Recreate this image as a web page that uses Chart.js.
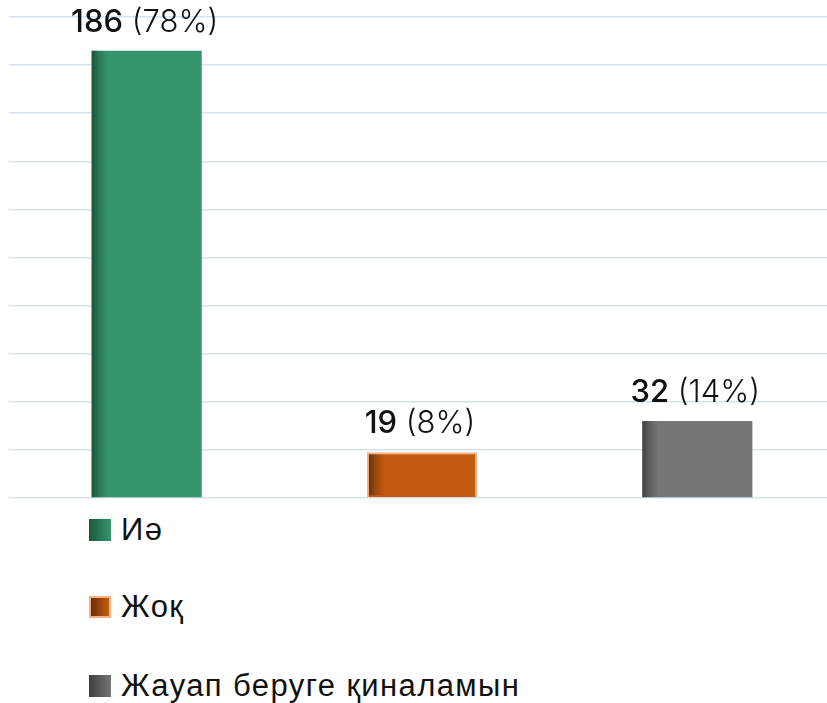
<!DOCTYPE html>
<html>
<head>
<meta charset="utf-8">
<script src="https://cdn.jsdelivr.net/npm/chart.js@4/dist/chart.umd.min.js"></script>
<style>
  body { margin: 0; background: #fff; overflow: hidden; width: 827px; height: 703px; }
  #wrap { position: absolute; left: 0; top: 0; width: 836px; height: 500px; }
  #legend { position: absolute; left: 89px; top: 0; }
  .item { position: absolute; left: 0; display: flex; align-items: center; white-space: nowrap;
          font-family: "Liberation Sans", Arial, sans-serif; font-size: 31px; letter-spacing: 1.4px;
          color: #111; height: 40px; }
  .box { width: 22px; height: 22px; box-sizing: border-box; margin-right: 10px; }
</style>
</head>
<body>
<div id="wrap"><canvas id="chart"></canvas></div>
<div id="legend"></div>
<script>
// data
const categories = ['Иә', 'Жоқ', 'Жауап беруге қиналамын'];
const counts = [186, 19, 32];
const percents = ['78%', '8%', '14%'];
const yTicks = [0, 200, 20];

// colours
const fills = ['#35956a', '#c55a11', '#767676'];
const edges = ['#1d5a3d', '#6b2e06', '#3e3e3e'];
const borders = ['#35956a', '#f4b183', '#767676'];
const legendY = [530, 607, 686];
const boldFont = '500 31px Inter, "Noto Sans", sans-serif';
const thinFont = '300 31px Inter, "Noto Sans", sans-serif';

// {{{ edge shading + value labels
const barDecor =
{
  id: 'barDecor',
  afterDatasetsDraw(chart)
  {
    let ctx = chart.ctx;
    let meta = chart.getDatasetMeta(0);
    meta.data.forEach((bar, i) =>
    {
      let left = bar.x - bar.width / 2;
      let top = bar.y;
      let h = bar.base - bar.y;
      let inset = (i == 1) ? 2 : 0;
      let g = ctx.createLinearGradient(left + inset, 0, left + inset + 16, 0);
      g.addColorStop(0, 'rgba(0,0,0,0.45)');
      g.addColorStop(0.45, 'rgba(0,0,0,0.2)');
      g.addColorStop(1, 'rgba(0,0,0,0)');
      ctx.save();
      ctx.fillStyle = g;
      ctx.fillRect(left + inset, top + inset, 16, h - inset * 2);
      ctx.restore();

      // label: heavier count, light percent
      let a = String(counts[i]);
      let b = ' (' + percents[i] + ')';
      ctx.save();
      ctx.textBaseline = 'alphabetic';
      ctx.textAlign = 'left';
      ctx.fillStyle = '#111';
      ctx.font = boldFont;
      let wa = ctx.measureText(a).width;
      ctx.font = thinFont;
      let wb = ctx.measureText(b).width;
      let x0 = bar.x - (wa + wb) / 2 - 2;
      let yb = bar.y - 19;
      ctx.font = boldFont;
      ctx.fillText(a, x0, yb);
      ctx.font = thinFont;
      ctx.fillText(b, x0 + wa, yb);
      ctx.restore();
    });
  }
};
// }}}

// {{{ chart
let chart = new Chart(document.getElementById('chart'),
{
  type: 'bar',
  data:
  {
    labels: categories,
    datasets: [{
      data: counts,
      backgroundColor: fills,
      borderColor: borders,
      borderWidth: [0, 2, 0],
      barPercentage: 0.4,
      categoryPercentage: 1
    }]
  },
  options:
  {
    responsive: true,
    maintainAspectRatio: false,
    animation: false,
    layout: {padding: {top: 17, bottom: 2, left: 9, right: 1}},
    plugins: {legend: {display: false}, tooltip: {enabled: false}},
    scales:
    {
      x: {display: false},
      y:
      {
        min: yTicks[0],
        max: yTicks[1],
        ticks: {display: false, stepSize: yTicks[2]},
        border: {display: false},
        grid: {color: '#d7e2f0', lineWidth: 1.5, drawTicks: false},
        afterFit: (s) => { s.width = 0; }
      }
    }
  },
  plugins: [barDecor]
});
// }}}

// {{{ legend
let lg = document.getElementById('legend');
categories.forEach((name, i) =>
{
  let item = document.createElement('div');
  item.className = 'item';
  item.style.top = (legendY[i] - 20) + 'px';
  let box = document.createElement('div');
  box.className = 'box';
  box.style.background = 'linear-gradient(90deg, ' + edges[i] + ', ' + fills[i] + ')';
  if (i == 1)
  {
    box.style.border = '2px solid ' + borders[i];
  }
  item.appendChild(box);
  let t = document.createElement('span');
  t.textContent = name;
  item.appendChild(t);
  lg.appendChild(item);
});
// }}}
</script>
</body>
</html>
